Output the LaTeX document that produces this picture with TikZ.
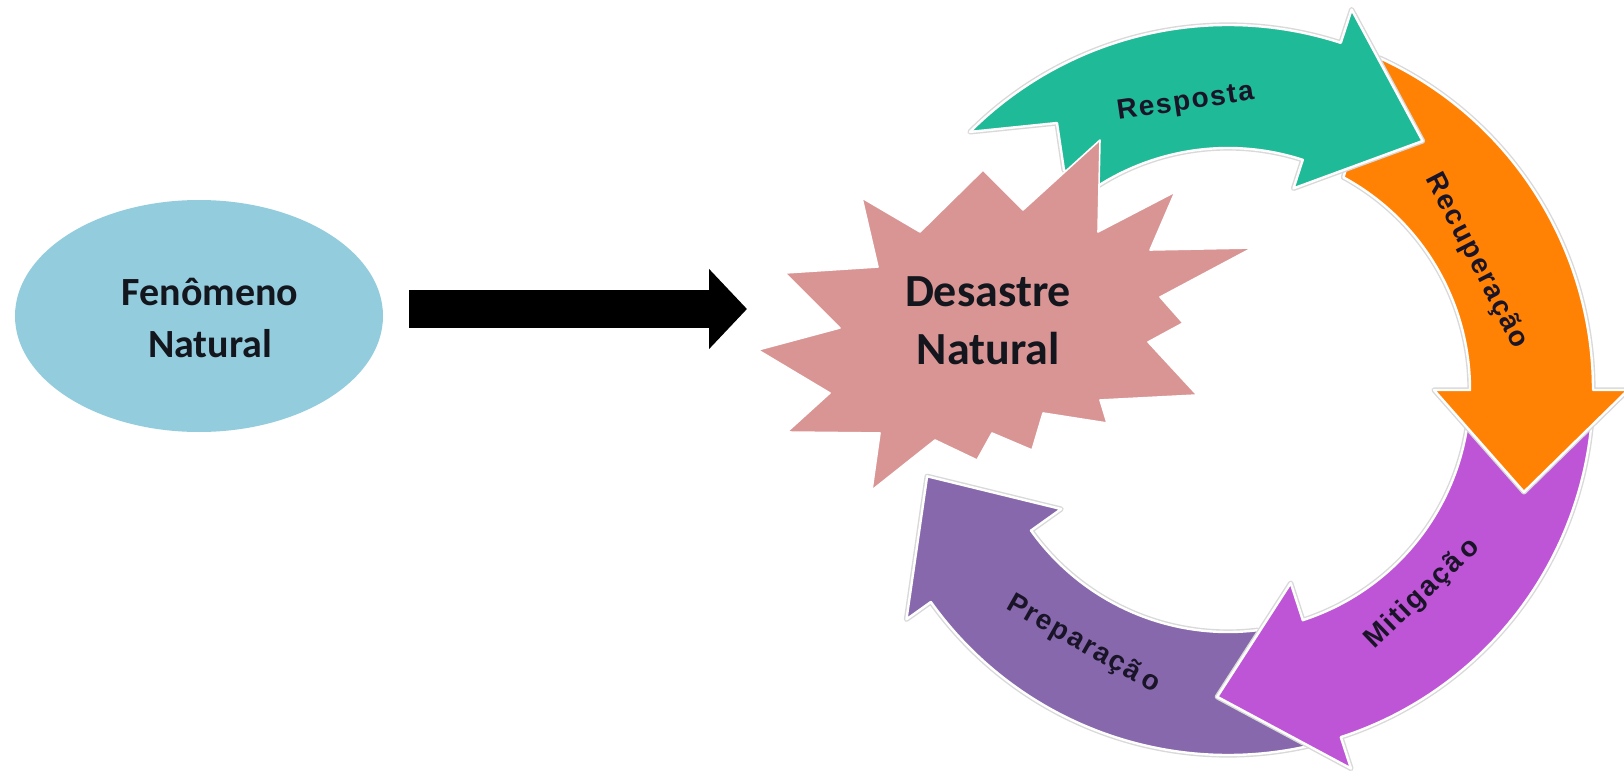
\documentclass[tikz,border=0pt]{standalone}
\usepackage{fontspec}
\setmainfont{Carlito}
\newfontfamily\lblfont{Liberation Sans}[LetterSpace=6]
\usetikzlibrary{calc,arrows.meta,shapes.geometric}
\definecolor{ellc}{RGB}{147,205,221}
\definecolor{starc}{RGB}{217,149,148}
\definecolor{tealc}{RGB}{31,186,151}
\definecolor{orangec}{RGB}{255,130,5}
\definecolor{magc}{RGB}{190,84,214}
\definecolor{purc}{RGB}{135,104,172}
\definecolor{txtc}{RGB}{20,22,30}
\definecolor{lblc}{RGB}{25,20,40}
\begin{document}
\begin{tikzpicture}[x=0.5pt,y=-0.5pt,
  band/.style={draw=white, line width=1.2pt, line join=round,
    preaction={draw=black!15, line width=2.6pt, line join=round}},
  maintxt/.style={font=\bfseries\fontsize{20}{26}\selectfont, text=txtc, align=center, inner sep=0pt},
  cyclbl/.style={font=\lblfont\bfseries\fontsize{14}{16}\selectfont, text=lblc, inner sep=0pt},
  bigarrow/.style={draw=black, line width=19pt, -{Triangle[length=19pt,width=39pt]}}
]
\useasboundingbox (0,0) rectangle (1624,776);
\fill[white] (0,0) rectangle (1624,776);
\coordinate (C) at (1228,390);

% Fenomeno Natural
\node[ellipse, fill=ellc, minimum width=184pt, minimum height=116pt, inner sep=0pt] (fen) at (199,316) {};
\node[maintxt] (fentxt) at (210,318) {Fenômeno\\Natural};

% cycle arrows (purple, magenta, orange, teal)
\path[band, fill=purc]
  ($(C)+(77.5:365)$) arc[start angle=77.5, end angle=144.5, radius=365]
  -- ($(C)+(144.5:395)$) -- ($(C)+(164:313)$) -- ($(C)+(144.5:205)$) -- ($(C)+(144.5:242)$)
  arc[start angle=144.5, end angle=83, radius=242] -- cycle;
\path[band, fill=magc]
  ($(C)+(5.5:365)$) arc[start angle=5.5, end angle=72, radius=365]
  -- ($(C)+(72:398)$) -- ($(C)+(92:307)$) -- ($(C)+(72:203)$) -- ($(C)+(72:242)$)
  arc[start angle=72, end angle=9, radius=242] -- cycle;
\path[band, fill=orangec]
  ($(C)+(-65.5:365)$) arc[start angle=-65.5, end angle=0, radius=365]
  -- ($(C)+(0:400)$) -- ($(C)+(19:313)$) -- ($(C)+(0:206)$) -- ($(C)+(0:242)$)
  arc[start angle=0, end angle=-61.5, radius=242] -- cycle;
\path[band, fill=tealc]
  ($(C)+(-135:365)$) arc[start angle=-135, end angle=-72, radius=365]
  -- ($(C)+(-72:400)$) -- ($(C)+(-52:316)$) -- ($(C)+(-72:212)$) -- ($(C)+(-72:242)$)
  arc[start angle=-72, end angle=-125, radius=242]
  -- (1064,170) -- (1057,123) -- cycle;

% star
\path[fill=starc, draw=white, line width=0.8pt, line join=round]
  (758,350) -- (840,328) -- (785,273) -- (878,267) -- (862,198) -- (920,232)
  -- (983,170) -- (1023,210) -- (1100,140) -- (1098,232) -- (1175,192)
  -- (1150,250) -- (1252,248) -- (1160,297) -- (1183,323) -- (1148,342)
  -- (1197,395) -- (1100,400) -- (1107,423) -- (1043,413) -- (1032,450)
  -- (992,433) -- (977,460) -- (935,440) -- (872,490) -- (880,433)
  -- (787,432) -- (830,393) -- cycle;
\node[maintxt, font=\bfseries\fontsize{23}{29}\selectfont] (des) at (988,321) {Desastre\\Natural};

% big black arrow
\coordinate (arrtip) at (747,309);
\draw[bigarrow] ($(fen.east)+(26,-7)$) -- (arrtip);

% cycle labels
\node[cyclbl, rotate=8.4] (lresp) at ($(C)+(-98.4:290)$) {Resposta};
\node[cyclbl, rotate=-62.6] (lrec) at ($(C)+(-27.4:280)$) {Recuperação};
\node[cyclbl, rotate=43.7] (lmit) at ($(C)+(46.3:282)$) {Mitigaçã\kern0.2em o};
\node[cyclbl, rotate=-29.6] (lprep) at ($(C)+(119.6:293)$) {Preparaçã\kern0.2em o};
\end{tikzpicture}
\end{document}
